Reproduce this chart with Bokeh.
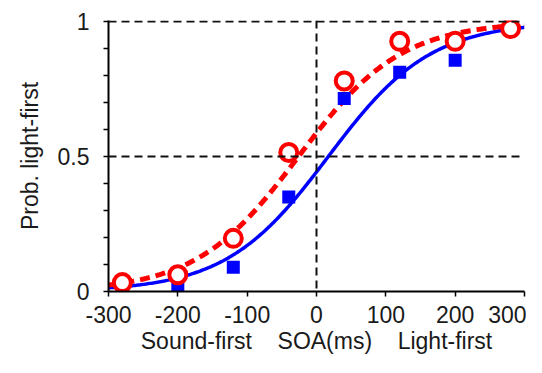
import numpy as np
from bokeh.plotting import figure
from bokeh.models import Span, FixedTicker, Range1d
from bokeh.embed import file_html
from bokeh.resources import INLINE

# ---- data ----
soa = [-280, -200, -120, -40, 40, 120, 200, 280]
blue_prob = [0.005, 0.016, 0.09, 0.35, 0.715, 0.812, 0.857, 0.97]
red_prob = [0.033, 0.062, 0.197, 0.515, 0.78, 0.927, 0.927, 0.974]

# fitted logistic psychometric functions (parameters)
blue_pse = 17.0
red_pse = -26.0
fit_scale = 74.0

x_ticks = [-300, -200, -100, 0, 100, 200, 300]
x_tick_labels = ["-300", "-200", "-100", "0", "100", "200", "300"]
y_ticks = [0, 0.5, 1]
y_tick_labels = ["0", "0.5", "1"]
y_minor_ticks = [0.1, 0.2, 0.3, 0.4, 0.6, 0.7, 0.8, 0.9]
x_title_parts = ["Sound-first", "SOA(ms)", "Light-first"]
y_title = "Prob. light-first"

FONT = "Liberation Sans"
FS = "23px"
TXT = "#1a1a1a"
GAP = "\u00a0" * 4

p = figure(width=526, height=357, x_range=Range1d(-300, 300), y_range=Range1d(0, 1.004),
           output_backend="svg", toolbar_location=None,
           min_border_left=108, min_border_right=2, min_border_top=20, min_border_bottom=66)
p.outline_line_color = None
p.grid.visible = False
p.background_fill_color = "white"
p.border_fill_color = "white"

# dashed reference lines
for loc, dim in [(1, "width"), (0.5, "width"), (0, "height")]:
    p.add_layout(Span(location=loc, dimension=dim, line_color="#111111",
                      line_width=2, line_dash="8 5"))

# fitted curves
xs = np.linspace(-300, 300, 301)
blue_fit = 1.0 / (1.0 + np.exp(-(xs - blue_pse) / fit_scale))
red_fit = 1.0 / (1.0 + np.exp(-(xs - red_pse) / fit_scale))
p.line(xs, blue_fit, line_color="#0000ff", line_width=3.5)
p.line(xs, red_fit, line_color="#ff0000", line_width=5, line_dash="10 6")

# data points
p.scatter(soa, blue_prob, marker="square", size=13, fill_color="#0000ff", line_color=None)
p.scatter(soa, red_prob, marker="circle", size=17, fill_color="white",
          line_color="#ff0000", line_width=4)

# y axis
ya = p.yaxis[0]
ya.ticker = FixedTicker(ticks=y_ticks, minor_ticks=y_minor_ticks)
ya.major_label_overrides = {t: l for t, l in zip(y_ticks, y_tick_labels)}
ya.axis_line_width = 2
ya.axis_line_color = "black"
ya.major_tick_out = 5
ya.major_tick_in = 0
ya.minor_tick_out = 5
ya.minor_tick_in = 0
ya.major_tick_line_width = 1.5
ya.minor_tick_line_width = 1.5
ya.major_tick_line_color = "black"
ya.minor_tick_line_color = "black"
ya.major_label_text_font = FONT
ya.major_label_text_font_size = FS
ya.major_label_text_color = TXT
ya.major_label_standoff = 14
ya.axis_label = y_title
ya.axis_label_text_font = FONT
ya.axis_label_text_font_size = FS
ya.axis_label_text_font_style = "normal"
ya.axis_label_text_color = TXT
ya.axis_label_standoff = 12

# x axis
xa = p.xaxis[0]
xa.ticker = FixedTicker(ticks=x_ticks, minor_ticks=[])
xa.major_label_overrides = {t: l for t, l in zip(x_ticks, x_tick_labels)}
xa.axis_line_width = 2
xa.axis_line_color = "black"
xa.major_tick_out = 5
xa.major_tick_in = 0
xa.major_tick_line_width = 1.5
xa.major_tick_line_color = "black"
xa.major_label_text_font = FONT
xa.major_label_text_font_size = FS
xa.major_label_text_color = TXT
xa.major_label_standoff = 9
xa.axis_label = GAP.join(x_title_parts)
xa.axis_label_text_font = FONT
xa.axis_label_text_font_size = FS
xa.axis_label_text_font_style = "normal"
xa.axis_label_text_color = TXT
xa.axis_label_standoff = 2

open("out.html", "w").write(file_html(p, INLINE))
